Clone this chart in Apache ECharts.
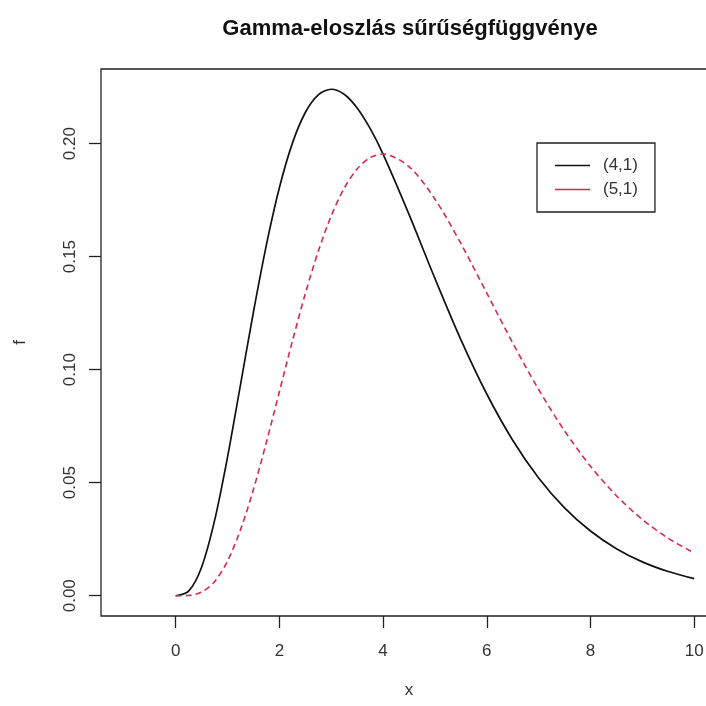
<!DOCTYPE html>
<html>
<head>
<meta charset="utf-8">
<script src="https://cdn.jsdelivr.net/npm/echarts@6/dist/echarts.min.js"></script>
<style>html,body{margin:0;padding:0;background:#fff;}#c{width:706px;height:706px;}</style>
</head>
<body>
<div id="c"></div>
<script>
var xValues = [0,0.25,0.5,0.75,1,1.25,1.5,1.75,2,2.25,2.5,2.75,3,3.25,3.5,3.75,4,4.5,5,5.5,6,6.5,7,7.5,8,8.5,9,9.5,10];
var gamma41 = [0,0.00203,0.01264,0.03321,0.06131,0.09326,0.12551,0.15522,0.18045,0.20009,0.21376,0.22158,0.22404,0.22184,0.21578,0.20670,0.19537,0.16872,0.14037,0.11332,0.08924,0.06881,0.05213,0.03889,0.02863,0.02083,0.01499,0.01070,0.00757];
var gamma51 = [0,0.00013,0.00158,0.00623,0.01533,0.02914,0.04707,0.06791,0.09022,0.11255,0.13360,0.15234,0.16803,0.18025,0.18881,0.19378,0.19537,0.18981,0.17547,0.15582,0.13386,0.11182,0.09123,0.07292,0.05726,0.04426,0.03373,0.02541,0.01893];
var seriesNames = ['(4,1)','(5,1)'];
var xTicks = [0,2,4,6,8,10];
var yTicks = [0,0.05,0.10,0.15,0.20];

function pairs(xs, ys){ return xs.map(function(x,i){ return [x, ys[i]]; }); }

var font = 'Liberation Sans, Arial, sans-serif';
var chart = echarts.init(document.getElementById('c'), null, {renderer:'canvas'});
chart.setOption({
  animation:false,
  backgroundColor:'#ffffff',
  title:{
    text:'Gamma-eloszlás sűrűségfüggvénye',
    left:405, textAlign:'center', top:13,
    textStyle:{fontFamily:font, fontSize:22, fontWeight:'bold', color:'#111'}
  },
  grid:{left:101, top:69, right:-11, bottom:90, show:true, borderColor:'#222', borderWidth:1.3,
    backgroundColor:'transparent', outerBoundsMode:'none', containLabel:false},
  legend:{
    orient:'vertical', left:537, top:143,
    padding:[14,17,14,18],
    borderColor:'#222', borderWidth:1.3, borderRadius:0,
    backgroundColor:'#fff',
    itemWidth:35, itemHeight:1.5, itemGap:7,
    icon:'rect',
    textStyle:{fontFamily:font, fontSize:17, color:'#333', padding:[0,0,0,8]},
    data:seriesNames
  },
  xAxis:{
    type:'value', min:-1.44, max:10.44,
    name:'x', nameLocation:'middle', nameGap:66,
    nameTextStyle:{fontFamily:font, fontSize:17, color:'#333'},
    axisLine:{show:false, onZero:false},
    axisTick:{show:true, inside:false, length:12, customValues:xTicks, lineStyle:{color:'#222', width:1.3}},
    axisLabel:{customValues:xTicks, margin:27, fontFamily:font, fontSize:17, color:'#333'},
    splitLine:{show:false}
  },
  yAxis:{
    type:'value', min:-0.00896, max:0.233,
    name:'f', nameLocation:'middle', nameGap:72, nameRotate:90,
    nameTextStyle:{fontFamily:font, fontSize:17, color:'#333'},
    axisLine:{show:false, onZero:false},
    axisTick:{show:true, inside:false, length:12, customValues:yTicks, lineStyle:{color:'#222', width:1.3}},
    axisLabel:{customValues:yTicks, rotate:90, margin:22, fontFamily:font, fontSize:17, color:'#333',
      formatter:function(v){ return v.toFixed(2); }},
    splitLine:{show:false}
  },
  series:[
    {name:seriesNames[0], type:'line', data:pairs(xValues,gamma41), smooth:0.3, showSymbol:false,
      itemStyle:{color:'#111'}, lineStyle:{color:'#111', width:1.7, type:'solid'}},
    {name:seriesNames[1], type:'line', data:pairs(xValues,gamma51), smooth:0.3, showSymbol:false,
      itemStyle:{color:'#d42a4f'}, lineStyle:{color:'#d42a4f', width:1.6, type:[6,4]}}
  ]
});
</script>
</body>
</html>
